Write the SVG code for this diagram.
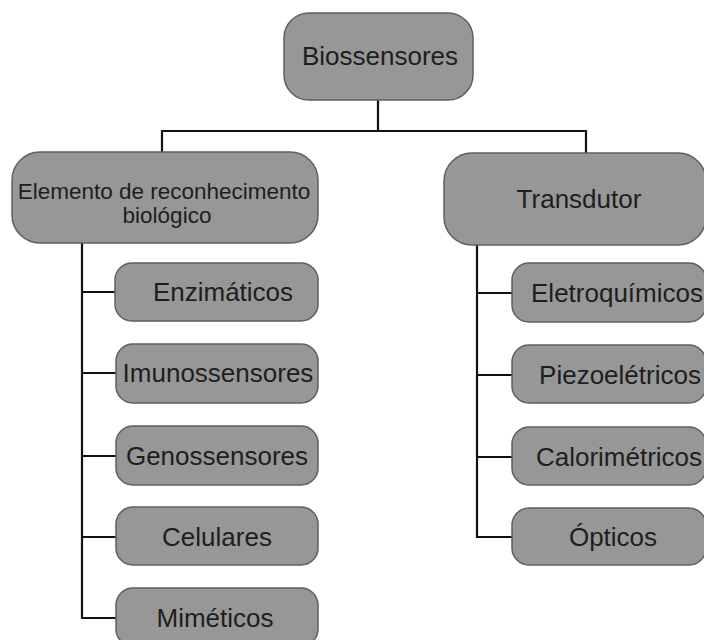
<svg xmlns="http://www.w3.org/2000/svg" width="704" height="640" viewBox="0 0 704 640">
<style>
.box{fill:#979797;stroke:#5f5f5f;stroke-width:1.5}
.t{font-family:"Liberation Sans",Arial,sans-serif;font-size:26px;fill:#1e1e1e;text-anchor:middle}
.s{font-size:22.5px}
.c{fill:none;stroke:#111;stroke-width:2.2}
</style>
<rect width="704" height="640" fill="#fff"/>
<g id="connectors">
<path class="c" d="M378 100V131M162 152V131H586V153"/>
<path class="c" d="M82 243V618H116M82 292H116M82 373H116M82 456H116M82 537H116"/>
<path class="c" d="M477 245V537H512M477 293H512M477 375H512M477 457H512"/>
</g>
<g id="biossensores"><rect class="box" x="284" y="13" width="189" height="87" rx="25"/><text class="t" x="380" y="65">Biossensores</text></g>
<g id="elemento"><rect class="box" x="12" y="152" width="306" height="91" rx="28"/><text class="t s" x="164" y="199">Elemento de reconhecimento</text><text class="t s" x="167" y="223">biológico</text></g>
<g id="transdutor"><rect class="box" x="444" y="153" width="262" height="92" rx="28"/><text class="t" x="579" y="208">Transdutor</text></g>
<g id="enzimaticos"><rect class="box" x="115" y="263" width="203" height="58" rx="17"/><text class="t" x="223" y="301">Enzimáticos</text></g>
<g id="imunossensores"><rect class="box" x="116" y="344" width="202" height="59" rx="17"/><text class="t" x="218" y="382">Imunossensores</text></g>
<g id="genossensores"><rect class="box" x="116" y="426" width="202" height="59" rx="17"/><text class="t" x="217" y="465">Genossensores</text></g>
<g id="celulares"><rect class="box" x="116" y="507" width="202" height="58" rx="17"/><text class="t" x="217" y="546">Celulares</text></g>
<g id="mimeticos"><rect class="box" x="116" y="588" width="202" height="58" rx="17"/><text class="t" x="215" y="627">Miméticos</text></g>
<g id="eletroquimicos"><rect class="box" x="512" y="263" width="194" height="59" rx="17"/><text class="t" x="617" y="302">Eletroquímicos</text></g>
<g id="piezoeletricos"><rect class="box" x="512" y="345" width="194" height="58" rx="17"/><text class="t" x="620" y="384">Piezoelétricos</text></g>
<g id="calorimetricos"><rect class="box" x="512" y="427" width="194" height="58" rx="17"/><text class="t" x="619" y="466">Calorimétricos</text></g>
<g id="opticos"><rect class="box" x="512" y="508" width="194" height="57" rx="17"/><text class="t" x="613" y="546">Ópticos</text></g>
</svg>
